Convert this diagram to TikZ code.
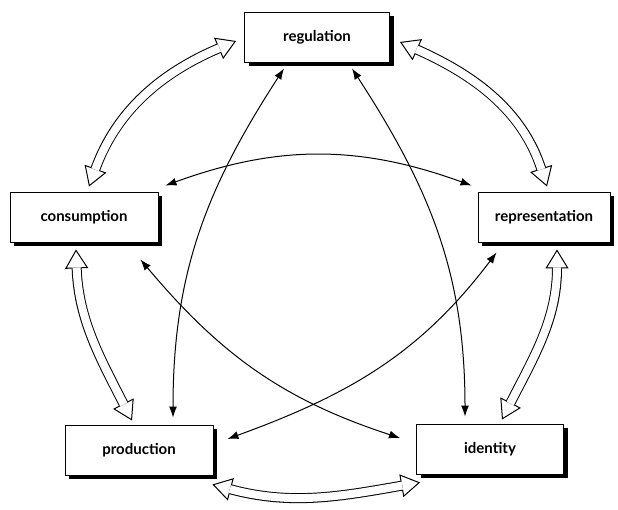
\documentclass[tikz,border=0pt]{standalone}
\usepackage{fontspec}
\setmainfont{Lato}
\usetikzlibrary{arrows.meta, shadows}

\begin{document}
\begin{tikzpicture}[x=1pt, y=1pt,
    box/.style={draw, line width=0.9pt, fill=white, minimum height=50pt,
      font=\bfseries\fontsize{15}{17}\selectfont,
      drop shadow={shadow xshift=4pt, shadow yshift=-4pt, fill=black, opacity=1}},
    link/.style={line width=1pt, {Latex[length=11pt, width=8pt]}-{Latex[length=11pt, width=8pt]}},
    flow/.style={line width=10pt,
      {Triangle[fill=white, line width=1pt, width=23pt, length=19pt]}-{Triangle[fill=white, line width=1pt, width=23pt, length=19pt]},
      postaction={draw=white, line width=8pt, -, shorten <=18pt, shorten >=18pt}}]

  \useasboundingbox (0,0) rectangle (618,510);

  % boxes
  \node[box, minimum width=145pt] (regulation) at (317,473) {regulation};
  \node[box, minimum width=148pt] (consumption) at (84,293) {consumption};
  \node[box, minimum width=132pt] (representation) at (544,293) {representation};
  \node[box, minimum width=148pt] (production) at (139,60) {production};
  \node[box, minimum width=147pt] (identity) at (490,61) {identity};

  % outer ring
  \draw[flow] ([xshift=5pt, yshift=5pt]consumption.north) to[out=70, in=203]
    ([xshift=-8pt, yshift=-4pt]regulation.west);
  \draw[flow] ([xshift=10pt, yshift=-5pt]regulation.east) to[out=-24, in=108]
    ([xshift=3pt, yshift=5pt]representation.north);
  \draw[flow] ([xshift=-8pt, yshift=-7pt]consumption.south) to[out=-88, in=117]
    ([xshift=-7pt, yshift=4pt]production.north);
  \draw[flow] ([xshift=13pt, yshift=-7pt]representation.south) to[out=-90, in=63]
    ([xshift=12pt, yshift=4pt]identity.north);
  \draw[flow] ([xshift=-1pt, yshift=-9pt]production.south east) to[out=-15, in=190]
    ([xshift=4pt, yshift=-8pt]identity.south west);

  % inner links
  \draw[link] ([xshift=-33pt, yshift=-6pt]regulation.south) to[out=237, in=90]
    ([xshift=34pt, yshift=7pt]production.north);
  \draw[link] ([xshift=35pt, yshift=-6pt]regulation.south) to[out=-57, in=90]
    ([xshift=-25pt, yshift=7pt]identity.north);
  \draw[link] ([xshift=7pt, yshift=6pt]consumption.north east) to[out=20, in=160]
    ([xshift=-6pt, yshift=6pt]representation.north west);
  \draw[link] ([xshift=-18pt, yshift=-17pt]consumption.south east) to[out=-50, in=162]
    ([xshift=-16pt, yshift=11pt]identity.west);
  \draw[link] ([xshift=19pt, yshift=-10pt]representation.south west) to[out=233, in=20]
    ([xshift=14pt, yshift=11pt]production.east);

\end{tikzpicture}
\end{document}
